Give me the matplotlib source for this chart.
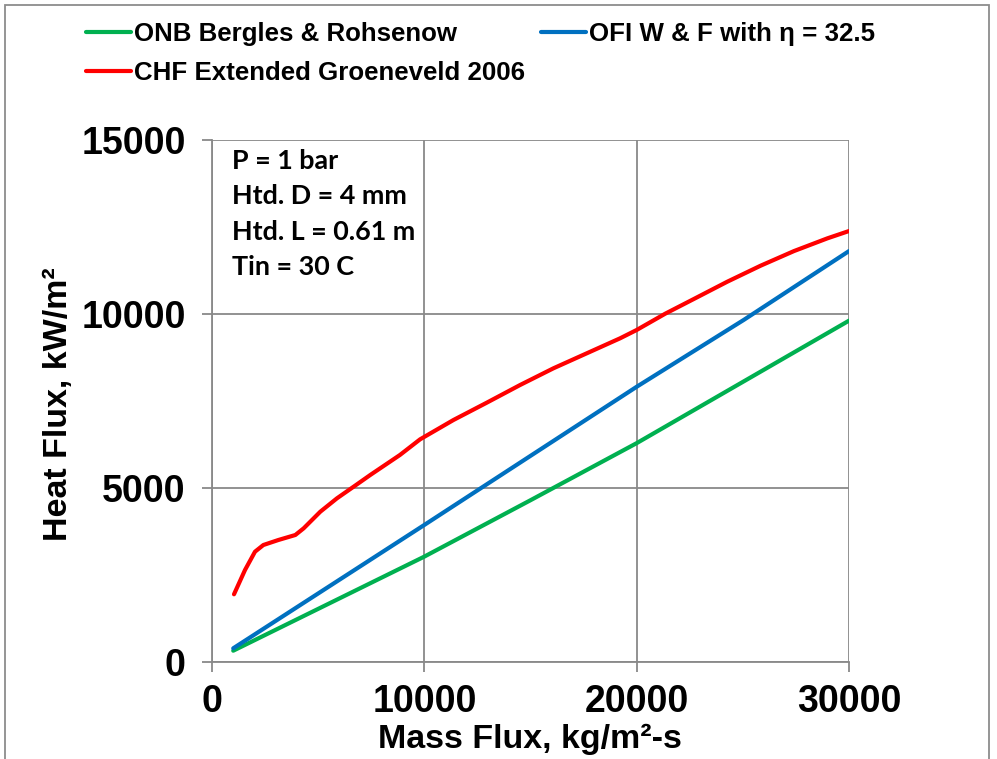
import numpy as np
import matplotlib
matplotlib.use('Agg')
from matplotlib import pyplot as plt
from matplotlib.patches import Rectangle

# data (mass flux kg/m2-s, heat flux kW/m2)
onb_x = [1000, 10000, 15000, 20000, 30000]
onb_y = [316, 3020, 4640, 6280, 9800]

ofi_x = [1000, 10000, 20000, 25040, 30000]
ofi_y = [385, 3930, 7900, 9820, 11800]

chf_x = [1036, 1554, 2025, 2418, 3125, 3925, 4317, 5100, 5885, 6670, 7455,
         8850, 9800, 11370, 12940, 14510, 16080, 17650, 19220, 20000, 21345,
         22700, 24270, 25840, 27410, 28980, 30000]
chf_y = [1937, 2635, 3161, 3353, 3497, 3641, 3833, 4310, 4695, 5029, 5366,
         5940, 6390, 6945, 7443, 7951, 8431, 8862, 9293, 9532, 10000,
         10425, 10920, 11380, 11800, 12165, 12376]

x_ticks = [0, 10000, 20000, 30000]
y_ticks = [0, 5000, 10000, 15000]

notes = ['P = 1 bar', 'Htd. D = 4 mm', 'Htd. L = 0.61 m', 'Tin = 30 C']

plt.rcParams['font.family'] = ['Liberation Sans', 'DejaVu Sans']
plt.rcParams['font.weight'] = 'bold'

grid_c = '#898989'

fig = plt.figure(figsize=(9.97, 7.59), dpi=100)
ax = fig.add_axes([212/997, 1-661.7/759, (849-212)/997, (661.7-139.7)/759])

l1, = ax.plot(onb_x, onb_y, color='#00B050', lw=3, solid_capstyle='round',
              label='ONB Bergles & Rohsenow')
l2, = ax.plot(ofi_x, ofi_y, color='#0070C0', lw=3, solid_capstyle='round',
              label='OFI W & F with \u03b7 = 32.5')
l3, = ax.plot(chf_x, chf_y, color='#FF0000', lw=3, solid_capstyle='round',
              solid_joinstyle='round', label='CHF Extended Groeneveld 2006')

ax.set_xlim(0, 30000)
ax.set_ylim(0, 15000)
ax.set_xticks(x_ticks)
ax.set_yticks(y_ticks)
ax.grid(True, color=grid_c, lw=1.3)
ax.set_axisbelow(True)
for s in ['top', 'right']:
    ax.spines[s].set_visible(False)
for s in ['left', 'bottom']:
    ax.spines[s].set_color(grid_c)
    ax.spines[s].set_linewidth(1.3)
ax.tick_params(axis='both', direction='out', length=7, width=1.3, color=grid_c,
               labelsize=27)
ax.tick_params(axis='x', pad=9)
ax.tick_params(axis='y', pad=12)
for lab in ax.get_xticklabels() + ax.get_yticklabels():
    lab.set_fontweight('bold')

fig.text(59/997, 1-404/759, 'Heat Flux, kW/m\u00b2', rotation=90, ha='center',
         va='center', fontsize=24.5, fontweight='bold')
fig.text(530/997, 1-739/759, 'Mass Flux, kg/m\u00b2-s', ha='center',
         va='center', fontsize=24.5, fontweight='bold')

ax.text(0.031, 0.983, '\n'.join(notes), transform=ax.transAxes, ha='left',
        va='top', fontsize=19.4, fontweight='bold', family=['Lato', 'DejaVu Sans'],
        linespacing=1.58)

fig.legend(handles=[l1, l3, l2], ncol=2, loc='upper left',
           bbox_to_anchor=(86/997, 1-22/759), frameon=False,
           handlelength=1.75, handletextpad=0.12, columnspacing=0.6,
           labelspacing=0.6, borderaxespad=0, borderpad=0,
           prop={'weight': 'bold', 'size': 18.6})

fig.patches.append(Rectangle((5/997, -0.01), 984/997, 1-5/759+0.01,
                             transform=fig.transFigure, fill=False,
                             edgecolor='#8c8c8c', lw=1.3))

fig.savefig('out.png', dpi=100)
plt.close()
